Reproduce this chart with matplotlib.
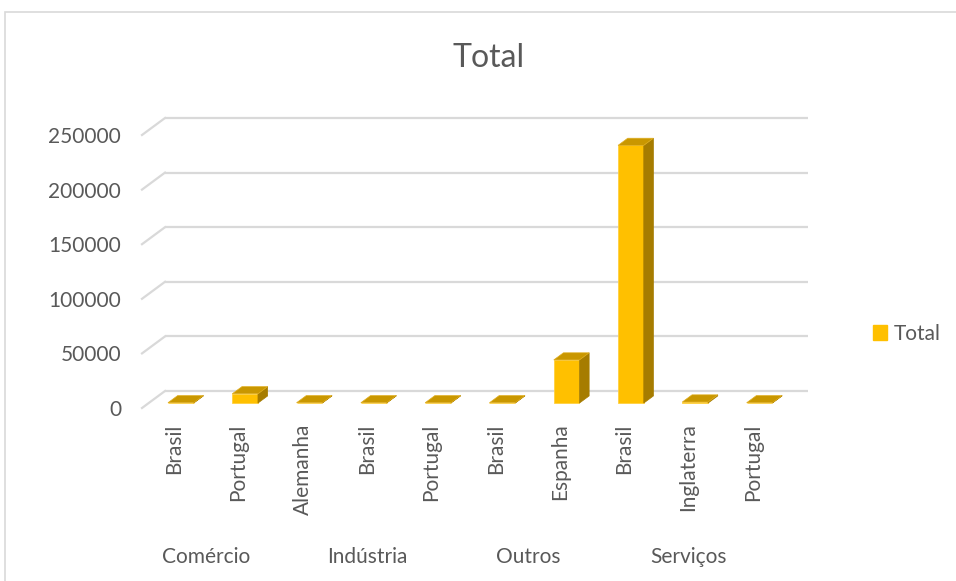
import numpy as np
import matplotlib
matplotlib.use("Agg")
from matplotlib import pyplot as plt
from matplotlib.patches import Polygon, Rectangle
from matplotlib.transforms import Affine2D, IdentityTransform

# sector / country totals
sectors = ["Comércio", "Indústria", "Outros", "Serviços"]
countries = ["Brasil", "Portugal",
             "Alemanha", "Brasil", "Portugal",
             "Brasil", "Espanha",
             "Brasil", "Inglaterra", "Portugal"]
group_sizes = [2, 3, 2, 3]
totals = [300, 8500, 300, 300, 300, 300, 39500, 236000, 1000, 300]
yticks = [0, 50000, 100000, 150000, 200000, 250000]

plt.rcParams['font.family'] = ['Lato', 'DejaVu Sans']
txt_col = "#595959"
grid_col = "#D9D9D9"
front_col = "#FFC000"
top_col = "#C99700"
side_col = "#A67C00"

W, H = 956, 581
fig = plt.figure(figsize=(W / 100, H / 100), dpi=100)

# chart frame
fig.patches.append(Rectangle((5 / W, -0.1), 1.0, 1 - 12 / H + 0.1,
                             transform=fig.transFigure, fill=False,
                             edgecolor=grid_col, lw=1.2))

# front plane of the 3d box, in pixels: x 142..785, y 408 (0) .. 135 (250000)
ax = fig.add_axes([142 / W, 1 - 408 / H, (785 - 142) / W, (408 - 135) / H])
ax.set_xlim(-0.5, len(countries) - 0.5)
ax.set_ylim(0, 250000)
for s in ax.spines.values():
    s.set_visible(False)
ax.patch.set_visible(False)

# full depth of the box in pixels
DX, DY = 23, 17


def shifted(depth):
    return ax.transData + Affine2D().translate(DX * depth, DY * depth)


# back wall gridlines and left wall diagonals
for v in yticks:
    ax.plot([-0.5, len(countries) - 0.5], [v, v], color=grid_col, lw=1.6,
            transform=shifted(1.0), solid_capstyle='butt', zorder=1,
            clip_on=False)
    p0 = ax.transData.transform((-0.5, v))
    ax.plot([p0[0], p0[0] + DX], [p0[1], p0[1] + DY], color=grid_col, lw=1.6,
            transform=IdentityTransform(), zorder=1, clip_on=False)

# 3d columns: front face at depth d0, back at d1
d0, d1 = 0.29, 0.71
bw = 0.4
x = np.arange(len(countries))
ax.bar(x, totals, width=bw, color=front_col, edgecolor="#FFD040", lw=0.6,
       transform=shifted(d0), zorder=3, clip_on=False)
for xi, v in zip(x, totals):
    fl = ax.transData.transform((xi - bw / 2, 0)) + (DX * d0, DY * d0)
    fr = ax.transData.transform((xi + bw / 2, 0)) + (DX * d0, DY * d0)
    tl = ax.transData.transform((xi - bw / 2, v)) + (DX * d0, DY * d0)
    tr = ax.transData.transform((xi + bw / 2, v)) + (DX * d0, DY * d0)
    dd = np.array([DX * (d1 - d0), DY * (d1 - d0)])
    side = Polygon([fr, tr, tr + dd, fr + dd], closed=True, facecolor=side_col,
                   edgecolor=side_col, lw=0.5, transform=IdentityTransform(),
                   zorder=4)
    top = Polygon([tl, tr, tr + dd, tl + dd], closed=True, facecolor=top_col,
                  edgecolor="#E0AE20", lw=0.5, transform=IdentityTransform(),
                  zorder=5)
    fig.patches.append(side)
    fig.patches.append(top)

# axes labels
ax.set_yticks(yticks)
ax.set_yticklabels([str(v) for v in yticks])
ax.tick_params(axis='y', length=0, pad=15, labelsize=15, labelcolor=txt_col)
ax.set_xticks(x)
ax.set_xticklabels(countries, rotation=90)
ax.tick_params(axis='x', length=0, pad=11, labelsize=15, labelcolor=txt_col)

# sector names below the country labels
start = 0
for name, n in zip(sectors, group_sizes):
    xc = start + (n - 1) / 2
    ax.text(xc, -0.545, name, transform=ax.get_xaxis_transform(),
            ha='center', va='center', fontsize=15, color=txt_col)
    start += n

fig.text(489 / W, 1 - 67 / H, "Total", ha='center', va='baseline',
         fontsize=23, color=txt_col)

fig.legend(handles=[Rectangle((0, 0), 1, 1, color=front_col)], labels=["Total"],
           loc='center left', bbox_to_anchor=(854 / W, 1 - 334 / H),
           frameon=False, fontsize=15, handlelength=0.7, handleheight=0.7,
           handletextpad=0.3, labelcolor=txt_col)

fig.savefig("out.png", dpi=100, facecolor="white")
